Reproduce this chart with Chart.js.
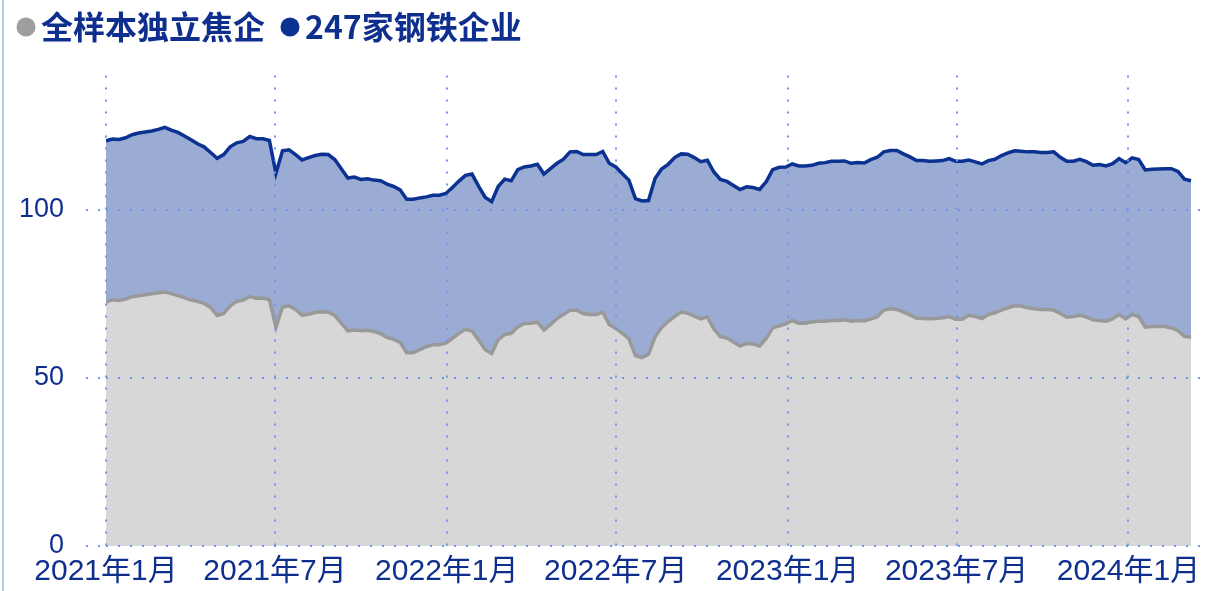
<!DOCTYPE html>
<html><head><meta charset="utf-8">
<script src="https://cdn.jsdelivr.net/npm/chart.js@4/dist/chart.umd.min.js"></script>
<style>html,body{margin:0;padding:0;background:#fff;}#wrap{position:relative;width:1205px;height:591px;}</style>
</head><body><div id="wrap"><canvas id="c"></canvas></div>
<script>
// ---- data ----
const startDate = '2021-01-01';
const weekCount = 167;
const seriesNames = ['全样本独立焦企', '247家钢铁企业'];
const tickDates = ['2021-01-01','2021-07-01','2022-01-01','2022-07-01','2023-01-01','2023-07-01','2024-01-01'];
const tickLabels = ['2021年1月','2021年7月','2022年1月','2022年7月','2023年1月','2023年7月','2024年1月'];
const yTicks = [0, 50, 100];
const yMax = 140;
const xMaxDate = '2024-03-23';

const cokeValues = [
72.6,73.3,73.1,73.5,74.2,74.5,74.8,75.1,75.4,75.6,
75.1,74.5,73.9,73.2,72.8,72.2,71.0,68.6,69.2,71.5,
72.8,73.2,74.3,73.7,73.8,73.3,65.1,71.1,71.5,70.4,
68.7,69.0,69.5,69.7,69.6,68.6,66.3,64.0,64.3,64.1,
64.2,63.8,63.2,62.1,61.5,60.6,57.5,57.5,58.4,59.3,
59.9,59.9,60.4,61.8,63.3,64.5,64.0,61.3,58.5,57.3,
61.4,62.9,63.3,65.2,66.2,66.3,66.6,64.3,65.9,67.7,
68.9,70.2,70.2,69.2,68.9,68.9,69.6,65.9,64.7,63.3,
61.7,56.7,56.1,57.1,62.2,65.0,66.8,68.3,69.6,69.3,
68.4,67.6,68.2,64.6,62.3,61.9,60.7,59.5,60.3,60.1,
59.5,61.8,64.9,65.5,66.1,67.1,66.3,66.3,66.7,66.9,
66.9,67.1,67.1,67.3,66.9,67.1,67.0,67.5,68.2,70.2,
70.6,70.4,69.6,68.8,67.8,67.7,67.6,67.7,67.9,68.3,
67.5,67.5,68.7,68.3,67.7,68.9,69.4,70.2,70.9,71.5,
71.4,70.9,70.6,70.4,70.4,70.2,69.2,68.1,68.3,68.7,
68.1,67.3,67.1,66.9,67.6,68.9,67.6,68.9,68.3,65.1,
65.3,65.3,65.3,64.9,64.1,62.4,62.1];

const steelValues = [
120.6,121.1,121.0,121.5,122.4,122.9,123.2,123.5,124.0,124.6,
123.8,123.1,122.0,120.9,119.7,118.8,117.1,115.4,116.5,118.8,
120.0,120.4,121.9,121.2,121.2,120.7,110.9,117.6,117.9,116.5,
114.9,115.6,116.2,116.6,116.5,115.0,112.3,109.5,109.8,109.1,
109.3,108.9,108.7,107.7,107.0,106.0,103.2,103.2,103.6,103.9,
104.4,104.4,104.9,106.7,108.6,110.3,110.7,107.1,103.8,102.5,
107.0,109.2,108.7,112.0,112.8,113.1,113.6,110.7,112.3,113.9,
115.1,117.3,117.4,116.5,116.5,116.5,117.4,113.9,112.8,110.8,
108.9,103.4,102.7,102.8,109.4,112.2,113.6,115.6,116.7,116.6,
115.6,114.4,114.8,111.3,109.1,108.5,107.3,106.1,106.9,106.7,
106.1,108.4,112.0,112.7,112.8,113.7,113.1,113.1,113.3,113.9,
114.1,114.5,114.5,114.6,113.9,114.1,114.0,115.0,115.7,117.3,
117.7,117.7,116.7,115.8,114.7,114.7,114.5,114.6,114.7,115.3,
114.5,114.5,114.9,114.3,113.7,114.7,115.1,116.2,117.0,117.6,
117.5,117.3,117.3,117.1,117.1,117.3,115.7,114.5,114.5,115.1,
114.4,113.3,113.5,113.1,113.8,115.3,114.1,115.5,115.0,111.9,
112.1,112.2,112.3,112.3,111.5,109.2,108.7];

// ---- helpers ----
const DAY = 86400000;
const t0 = Date.parse(startDate + 'T00:00:00Z');
const dayOf = s => Math.round((Date.parse(s + 'T00:00:00Z') - t0) / DAY);
const weekDays = Array.from({length: weekCount}, (_, i) => i * 7);
const tickDays = tickDates.map(dayOf);

const TEXT = '#0f2f8e';
const GRID = '#7493ee';
const BLUE_LINE = '#0b3191';
const BLUE_FILL = '#9aabd4';
const GRAY_LINE = '#999999';
const GRAY_FILL = '#d7d7d7';

const legendPlugin = {
  id: 'customLegend',
  beforeDraw(chart) {
    const ctx = chart.ctx;
    ctx.save();
    ctx.fillStyle = '#b9c8ef';
    ctx.fillRect(2, 0, 2, chart.height);
    ctx.restore();
  },
  afterDraw(chart) {
    const ctx = chart.ctx;
    ctx.save();
    ctx.font = 'bold 32px "Noto Sans CJK SC", "Liberation Sans", sans-serif';
    ctx.textBaseline = 'middle';
    ctx.textAlign = 'left';
    const cy = 27;
    const colors = ['#9e9e9e', BLUE_LINE];
    let x = 17;
    seriesNames.forEach((name, i) => {
      ctx.fillStyle = colors[i];
      ctx.beginPath();
      ctx.arc(x + 9, cy, 9.5, 0, Math.PI * 2);
      ctx.fill();
      const tx = x + 24;
      ctx.fillStyle = TEXT;
      ctx.fillText(name, tx, cy);
      x = tx + ctx.measureText(name).width + 16;
    });
    ctx.restore();
  }
};

new Chart(document.getElementById('c'), {
  type: 'line',
  data: {
    datasets: [
      {
        label: seriesNames[0],
        data: cokeValues.map((v, i) => ({x: weekDays[i], y: v})),
        borderColor: GRAY_LINE,
        backgroundColor: GRAY_FILL,
        borderWidth: 3.5,
        fill: 'origin',
        pointRadius: 0,
        tension: 0
      },
      {
        label: seriesNames[1],
        data: steelValues.map((v, i) => ({x: weekDays[i], y: v})),
        borderColor: BLUE_LINE,
        backgroundColor: BLUE_FILL,
        borderWidth: 3.5,
        fill: 'origin',
        pointRadius: 0,
        tension: 0
      }
    ]
  },
  options: {
    responsive: true,
    maintainAspectRatio: false,
    animation: false,
    layout: {padding: {top: 75.6, right: 0, left: 0, bottom: 0}},
    plugins: {legend: {display: false}, tooltip: {enabled: false}},
    scales: {
      x: {
        type: 'linear',
        min: 0,
        max: dayOf(xMaxDate),
        afterBuildTicks: s => { s.ticks = tickDays.map(v => ({value: v})); },
        afterFit: s => { s.height = 45; s.paddingLeft = 0; s.paddingRight = 0; },
        border: {display: false, dash: [2, 10]},
        grid: {color: GRID, lineWidth: 2, drawTicks: false, z: 1},
        ticks: {
          autoSkip: false,
          maxRotation: 0,
          padding: 8,
          color: TEXT,
          font: {family: '"Liberation Sans", "Noto Sans CJK SC", sans-serif', size: 30},
          callback: v => { const k = tickDays.indexOf(v); return k >= 0 ? tickLabels[k] : null; }
        }
      },
      y: {
        min: 0,
        max: yMax,
        afterBuildTicks: s => { s.ticks = yTicks.map(v => ({value: v})); },
        afterFit: s => { s.width = 106; },
        border: {display: false, dash: [2, 10]},
        grid: {color: GRID, lineWidth: 2, drawTicks: true, tickLength: 20, tickBorderDash: [2, 10], z: 1},
        ticks: {
          padding: 22,
          color: TEXT,
          font: {family: '"Liberation Sans", sans-serif', size: 27}
        }
      }
    }
  },
  plugins: [legendPlugin]
});
</script>
</body></html>
